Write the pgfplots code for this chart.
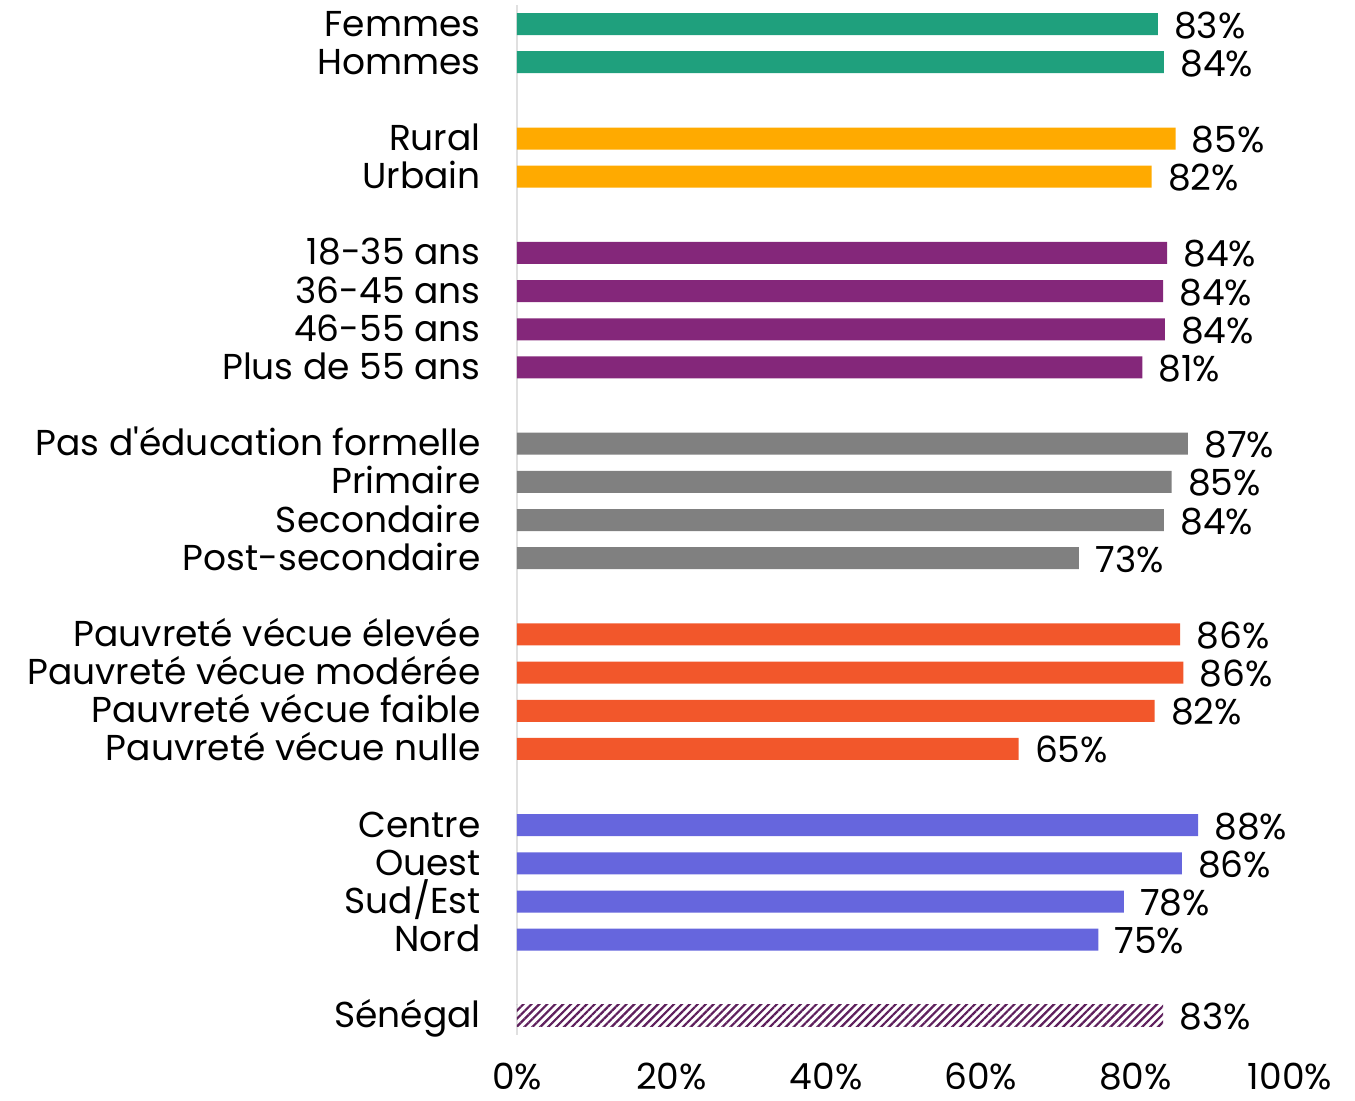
\documentclass[border=0pt]{standalone}
\usepackage{pgfplots}
\pgfplotsset{compat=1.18}
\usepackage{fontspec}
\setmainfont{Poppins}[Ligatures=TeXOff]
\usetikzlibrary{patterns.meta}
\definecolor{cgreen}{HTML}{1FA07D}
\definecolor{corange}{HTML}{FFAA00}
\definecolor{cpurple}{HTML}{84277A}
\definecolor{cgray}{HTML}{808080}
\definecolor{cred}{HTML}{F2572B}
\definecolor{cblue}{HTML}{6666DD}
\definecolor{cdark}{HTML}{5E1F5C}
\begin{document}
\begin{tikzpicture}
\begin{axis}[
  name=ax,
  scale only axis,
  width=386.5pt, height=515pt,
  xmin=0, xmax=100, ymin=-0.5, ymax=26.5,
  y dir=reverse,
  xbar, bar width=11pt, bar shift=0pt,
  clip=false,
  font=\fontsize{18}{20}\selectfont,
  axis x line=none,
  separate axis lines,
  axis y line*=left,
  y axis line style={draw=black!12, line width=1pt, -},
  major tick length=0pt,
  xtick={0,20,40,60,80,100},
  ytick={0,1,3,4,6,7,8,9,11,12,13,14,16,17,18,19,21,22,23,24,26},
  yticklabels={Femmes,Hommes,Rural,Urbain,18-35 ans,36-45 ans,46-55 ans,Plus de 55 ans,Pas d'éducation formelle,Primaire,Secondaire,Post-secondaire,Pauvreté vécue élevée,Pauvreté vécue modérée,Pauvreté vécue faible,Pauvreté vécue nulle,Centre,Ouest,Sud/Est,Nord,Sénégal},
  yticklabel style={anchor=base east, inner sep=0pt, xshift=-18pt, yshift=-6pt},
  point meta=explicit symbolic,
  nodes near coords,
  every node near coord/.append style={anchor=base west, inner sep=0pt, xshift=8pt, yshift=-7pt, text=black, font=\fontsize{18}{20}\selectfont},
]
\addplot[fill=cgreen, draw=none] coordinates {(82.9,0)[83\%] (83.7,1)[84\%]};
\addplot[fill=corange, draw=none] coordinates {(85.2,3)[85\%] (82.1,4)[82\%]};
\addplot[fill=cpurple, draw=none] coordinates {(84.1,6)[84\%] (83.6,7)[84\%] (83.8,8)[84\%] (80.9,9)[81\%]};
\addplot[fill=cgray, draw=none] coordinates {(86.8,11)[87\%] (84.7,12)[85\%] (83.7,13)[84\%] (72.7,14)[73\%]};
\addplot[fill=cred, draw=none] coordinates {(85.8,16)[86\%] (86.2,17)[86\%] (82.5,18)[82\%] (64.9,19)[65\%]};
\addplot[fill=cblue, draw=none] coordinates {(88.1,21)[88\%] (86.0,22)[86\%] (78.5,23)[78\%] (75.2,24)[75\%]};
\addplot[draw=none, pattern={Lines[angle=45, distance=2.8pt, line width=1.1pt]}, pattern color=cdark] coordinates {(83.6,26)[83\%]};
\pgfplotsinvokeforeach{0,20,40,60,80,100}{
  \node[anchor=base, inner sep=0pt, font=\fontsize{18}{20}\selectfont] at (axis cs:#1,26.5) [yshift=-27pt] {#1\%};
}
\end{axis}
\path ([xshift=-258.5pt,yshift=-32.5pt]ax.south west) rectangle ([xshift=-258.5pt+677.5pt,yshift=517.5pt]ax.south west);
\end{tikzpicture}
\end{document}
